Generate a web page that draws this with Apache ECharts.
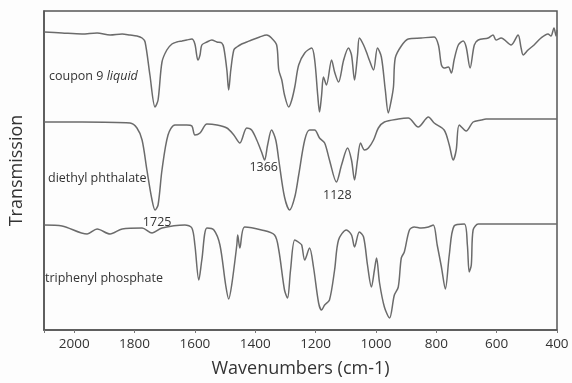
<!DOCTYPE html>
<html>
<head>
<meta charset="utf-8">
<script src="https://cdn.jsdelivr.net/npm/echarts@6/dist/echarts.min.js"></script>
<style>
html,body{margin:0;padding:0;background:#fdfdfd;}
#c{width:572px;height:383px;}
</style>
</head>
<body>
<div id="c"></div>
<script>
// Wavenumber (cm-1) / relative transmission (stacked, arbitrary units)
const xTicks = [2000, 1800, 1600, 1400, 1200, 1000, 800, 600, 400];

const couponWn = [2099,2040,1974,1924,1881,1841,1815,1792,1775,1765,1749,1732,1722,1709,1693,1676,1660,1643,1627,1610,1600,1590,1583,1577,1560,1544,1527,1511,1504,1494,1488,1481,1471,1461,1445,1428,1412,1385,1362,1346,1329,1322,1312,1303,1289,1279,1269,1256,1236,1213,1203,1193,1187,1180,1174,1164,1147,1137,1124,1107,1091,1081,1071,1061,1055,1041,1028,1022,1008,995,982,969,959,949,942,936,916,893,850,807,793,783,774,760,750,741,727,711,701,688,674,661,628,612,602,585,552,529,519,512,496,476,453,430,420,410,403,400];
const couponT  = [298,297,296,297,295,296,295,294,292,288,255,223,230,268,280,286,288,289,290,291,286,270,275,285,288,290,288,287,282,260,240,260,280,283,286,288,290,293,295,292,285,260,250,235,223,230,243,265,277,282,270,235,218,235,253,245,270,258,248,270,282,275,250,275,292,285,275,270,260,282,273,240,217,230,243,272,284,291,292,293,285,265,262,263,257,270,285,289,283,262,285,290,292,295,290,292,285,295,282,275,280,285,292,296,294,302,294,300];

const dietWn = [2099,1974,1815,1792,1775,1759,1742,1732,1722,1709,1689,1666,1627,1610,1600,1583,1560,1527,1494,1471,1451,1428,1412,1395,1379,1369,1359,1346,1332,1322,1303,1286,1269,1256,1236,1220,1203,1187,1170,1154,1131,1114,1094,1081,1071,1061,1051,1038,1025,1008,992,972,926,893,860,826,807,774,757,744,734,724,701,678,651,635,400];
const dietT  = [208,208,207,202,190,160,130,120,125,160,195,205,205,204,195,197,206,205,202,195,187,202,200,190,178,170,185,200,190,170,133,120,133,155,190,200,200,192,187,170,148,165,182,170,150,170,187,180,182,190,202,208,211,212,203,213,207,200,185,170,180,205,199,208,210,211,211];

const triWn = [2099,2040,1957,1924,1881,1841,1775,1742,1709,1633,1610,1600,1587,1577,1560,1537,1517,1498,1488,1478,1461,1458,1451,1435,1379,1336,1322,1303,1293,1283,1269,1253,1246,1236,1220,1207,1190,1180,1170,1154,1137,1124,1098,1081,1071,1055,1041,1028,1015,1005,998,988,972,955,939,926,916,906,889,873,850,826,810,797,783,770,757,741,707,697,691,684,678,661,641,400];
const triT  = [105,104,96,101,96,101,102,97,102,105,102,85,50,70,102,100,85,45,31,45,85,95,82,103,100,95,80,40,32,60,90,87,85,70,82,63,27,20,25,30,60,90,100,95,83,98,93,65,43,60,72,47,23,12,35,43,72,78,100,103,102,103,105,85,63,41,75,104,106,85,58,65,100,106,106,106];

const peakLabels = ['1725', '1366', '1128'];
const peakWn = [1725, 1372, 1128];
const peakT = [108, 163, 135];

function pairs(xs, ys) { return xs.map((x, i) => [x, ys[i]]); }

const lineStyle = { color: '#6b6b6b', width: 1.5 };
const chart = echarts.init(document.getElementById('c'), null, { renderer: 'canvas' });
const FONT = '"Open Sans", sans-serif';

chart.setOption({
  backgroundColor: '#fdfdfd',
  animation: false,
  grid: { left: 40, right: 15, top: 11, bottom: 53, show: true, borderColor: '#555', borderWidth: 1.5, backgroundColor: 'transparent' },
  xAxis: {
    type: 'value', min: 400, max: 2100, inverse: true, interval: 200,
    name: 'Wavenumbers (cm-1)', nameLocation: 'middle', nameGap: 30,
    nameTextStyle: { fontFamily: FONT, fontSize: 18, color: '#333' },
    axisLine: { show: true, lineStyle: { color: '#555', width: 1.5 } },
    axisTick: { show: true, length: 3, lineStyle: { color: '#777' } },
    axisLabel: { fontFamily: FONT, fontSize: 13.5, color: '#333', margin: 7,
      formatter: v => xTicks.includes(v) ? String(v) : '' },
    splitLine: { show: false }
  },
  yAxis: {
    type: 'value', min: 0, max: 319,
    name: 'Transmission', nameLocation: 'middle', nameGap: 18,
    nameTextStyle: { fontFamily: FONT, fontSize: 18, color: '#333' },
    axisLine: { show: true, lineStyle: { color: '#555', width: 1.5 } },
    axisTick: { show: false }, axisLabel: { show: false }, splitLine: { show: false }
  },
  series: [
    { type: 'line', name: 'coupon 9 liquid', data: pairs(couponWn, couponT), showSymbol: false, smooth: 0.3, lineStyle },
    { type: 'line', name: 'diethyl phthalate', data: pairs(dietWn, dietT), showSymbol: false, smooth: 0.3, lineStyle,
      markPoint: {
        symbol: 'circle', symbolSize: 0,
        label: { show: true, position: 'inside', fontFamily: FONT, fontSize: 12.5, color: '#333', formatter: p => p.name },
        data: peakLabels.map((n, i) => ({ name: n, coord: [peakWn[i], peakT[i]] }))
      } },
    { type: 'line', name: 'triphenyl phosphate', data: pairs(triWn, triT), showSymbol: false, smooth: 0.3, lineStyle }
  ],
  graphic: [
    { type: 'text', left: 49, top: 70, style: { text: '{n|coupon 9 }{i|liquid}', rich: { n: { fontFamily: FONT, fontSize: 12.5, fill: '#333' }, i: { fontFamily: FONT, fontSize: 12.5, fontStyle: 'italic', fill: '#333' } } } },
    { type: 'text', left: 48, top: 172, style: { text: 'diethyl phthalate', fontFamily: FONT, fontSize: 12.5, fill: '#333' } },
    { type: 'text', left: 45, top: 272, style: { text: 'triphenyl phosphate', fontFamily: FONT, fontSize: 12.5, fill: '#333' } }
  ]
});
</script>
</body>
</html>
